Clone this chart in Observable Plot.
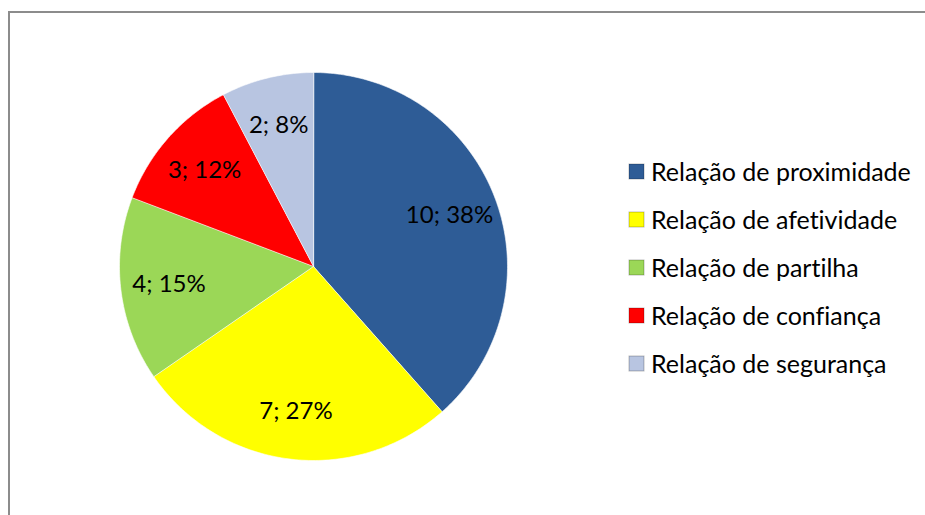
<!DOCTYPE html>
<html>
<head>
<meta charset="utf-8">
<script src="https://cdn.jsdelivr.net/npm/d3@7"></script>
<script src="https://cdn.jsdelivr.net/npm/@observablehq/plot@0.6"></script>
<style>
  html, body { margin: 0; padding: 0; background: #fff; }
  #wrap { position: relative; width: 925px; height: 515px; overflow: hidden; font-family: Lato, "Noto Sans", sans-serif; }
  #frame { position: absolute; left: 8px; top: 11px; width: 940px; height: 520px; border-left: 2px solid #8c8c8c; border-top: 2px solid #8c8c8c; box-sizing: border-box; pointer-events: none; }
  #chart { position: absolute; left: 0; top: 0; }
  #legend { position: absolute; left: 629px; top: 147px; }
  .lg-swatches { font-family: Lato, "Noto Sans", sans-serif !important; font-size: 25px !important; color: #000 !important; margin: 0 !important; font-variant-ligatures: none; }
  .lg-swatch { height: 48px !important; padding: 0 !important; }
  .lg-swatch > svg { margin-right: 7px !important; }
  .lg-swatch > svg rect, .lg-swatch > svg path { stroke: rgba(0,0,0,0.25); stroke-width: 1px; }
</style>
</head>
<body>
<div id="wrap">
  <div id="chart"></div>
  <div id="legend"></div>
  <div id="frame"></div>
</div>
<script>
// ---- data ----
const categories = [
  "Relação de proximidade",
  "Relação de afetividade",
  "Relação de partilha",
  "Relação de confiança",
  "Relação de segurança"
];
const counts = [10, 7, 4, 3, 2];
const percentLabels = ["38%", "27%", "15%", "12%", "8%"];

// ---- style ----
const colors = ["#2E5C96", "#FFFF00", "#9BD757", "#FF0000", "#B8C5E1"];

// ---- build slices with d3.pie (clockwise from 12 o'clock) ----
const pie = d3.pie().sort(null).value(d => d.count);
const rows = categories.map((c, i) => ({category: c, count: counts[i], pct: percentLabels[i]}));
const arcs = pie(rows);

const polyPts = [];
arcs.forEach(a => {
  const cat = a.data.category;
  polyPts.push({category: cat, x: 0, y: 0});
  const n = Math.max(2, Math.ceil((a.endAngle - a.startAngle) / (Math.PI / 180)));
  for (let k = 0; k <= n; k++) {
    const t = a.startAngle + (a.endAngle - a.startAngle) * k / n;
    polyPts.push({category: cat, x: Math.sin(t), y: Math.cos(t)});
  }
});

const labelR = 0.75;
const labels = arcs.map(a => {
  const m = (a.startAngle + a.endAngle) / 2;
  return {category: a.data.category, x: labelR * Math.sin(m), y: labelR * Math.cos(m), text: `${a.data.count}; ${a.data.pct}`};
});

const W = 925, H = 515;
const cx = 313, cy = 266, R = 194;

const plot = Plot.plot({
  width: W,
  height: H,
  marginLeft: cx - R,
  marginRight: W - (cx + R),
  marginTop: cy - R,
  marginBottom: H - (cy + R),
  x: {domain: [-1, 1], axis: null},
  y: {domain: [-1, 1], axis: null},
  color: {type: "ordinal", domain: categories, range: colors},
  style: {background: "transparent", overflow: "visible"},
  marks: [
    Plot.line(polyPts, {x: "x", y: "y", z: "category", fill: "category", stroke: "#ffffff", strokeOpacity: 0.6, strokeWidth: 1, curve: "linear-closed"}),
    Plot.text(labels, {x: "x", y: "y", text: "text", fontSize: 24, fill: "#000", fontFamily: "Lato, 'Noto Sans', sans-serif"})
  ]
});
document.getElementById("chart").appendChild(plot);

const leg = Plot.legend({
  color: {type: "ordinal", domain: categories, range: colors},
  legend: "swatches",
  columns: 1,
  swatchSize: 15,
  className: "lg"
});
document.getElementById("legend").appendChild(leg);
</script>
</body>
</html>
